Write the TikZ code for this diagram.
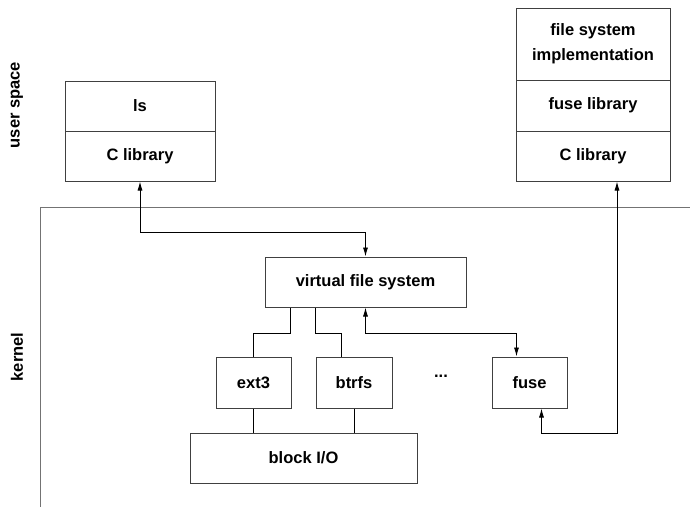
\documentclass[tikz,border=0pt]{standalone}
\usepackage{fontspec}
\setmainfont{Liberation Sans}
\usetikzlibrary{arrows.meta}
\begin{document}
\begin{tikzpicture}[x=1pt,y=-1pt,
  box/.style={draw=black!75,line width=1pt,inner sep=0pt,font=\fontsize{16.5}{25}\selectfont\bfseries,align=center},
  conn/.style={draw=black,line width=0.9pt},
  arr/.style={conn,{Latex[length=9pt,width=5pt]}-{Latex[length=9pt,width=5pt]}},
  lbl/.style={font=\fontsize{16.5}{19}\selectfont\bfseries,rotate=90,inner sep=0pt}]
\useasboundingbox (0,0) rectangle (690,507);
% kernel boundary
\draw[black!55,line width=1pt] (690,207) -- (40,207) -- (40,507);
% labels
\node[lbl] (us) at (17,105) {user space};
\node[lbl] (kn) at (17,357) {kernel};
% left user stack
\node[box,minimum width=150,minimum height=50] (ls) at (140,106) {ls};
\node[box,minimum width=150,minimum height=50] (clib1) at (140,156) {C library};
% right user stack
\node[box,minimum width=154,minimum height=72] (fsi) at (593,44) {file system\\implementation};
\node[box,minimum width=154,minimum height=51] (fuselib) at (593,105.5) {fuse library};
\node[box,minimum width=154,minimum height=50] (clib2) at (593,156) {C library};
% kernel
\node[box,minimum width=201,minimum height=50] (vfs) at (365.5,282) {virtual file system};
\node[box,minimum width=75,minimum height=51] (ext3) at (253.5,382.5) {ext3};
\node[box,minimum width=76,minimum height=51] (btrfs) at (354,382.5) {btrfs};
\node[font=\fontsize{16.5}{19}\selectfont\bfseries,inner sep=0pt] (dots) at (441,376) {...};
\node[box,minimum width=75,minimum height=51] (fuse) at (529.5,382.5) {fuse};
\node[box,minimum width=227,minimum height=50] (block) at (303.5,458) {block I/O};
% connectors
\draw[arr] (clib1.south) -- ++(0,51) -| (vfs.north);
\draw[arr] (vfs.south) -- ++(0,26) -| ([xshift=-13pt]fuse.north);
\draw[arr] ([xshift=12pt]fuse.south) -- ++(0,25) -| ([xshift=24pt]clib2.south);
\draw[conn] ([xshift=-75pt]vfs.south) -- ++(0,26) -| (ext3.north);
\draw[conn] ([xshift=-50pt]vfs.south) -- ++(0,26) -| ([xshift=-13pt]btrfs.north);
\draw[conn] (ext3.south) -- (ext3.south |- block.north);
\draw[conn] (btrfs.south) -- (btrfs.south |- block.north);
\end{tikzpicture}
\end{document}
